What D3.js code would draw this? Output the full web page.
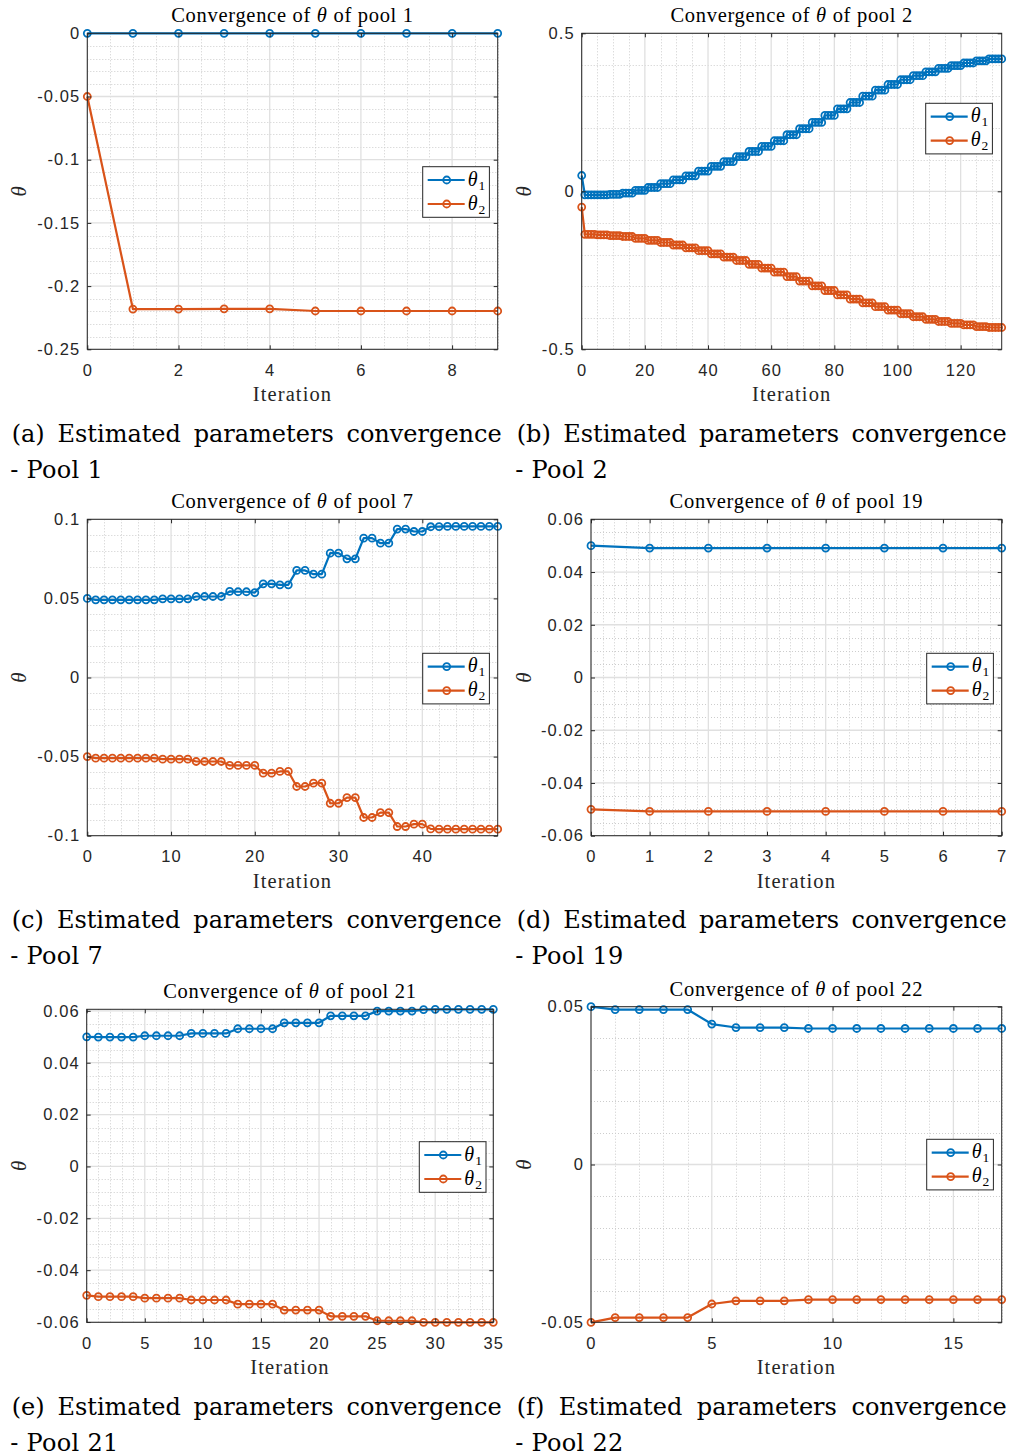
<!DOCTYPE html>
<html>
<head>
<meta charset="utf-8">
<script src="https://cdn.jsdelivr.net/npm/d3@7"></script>
<style>
  body { margin: 0; background: #fff; }
</style>
</head>
<body>
<div id="fig"></div>
<script>
// ---- datos ----
var pool1Theta1 = [0, 0, 0, 0, 0, 0, 0, 0, 0, 0];
var pool1Theta2 = [-0.05, -0.2182, -0.2182, -0.218, -0.218, -0.2197, -0.2197, -0.2197, -0.2197, -0.2197];

var pool2Theta1 = [0.05,
  -0.011, -0.011, -0.011, -0.011,
  -0.011, -0.011, -0.011, -0.011,
  -0.010, -0.010, -0.010, -0.010,
  -0.006, -0.006, -0.006, -0.006,
  0.003, 0.003, 0.003, 0.003,
  0.012, 0.012, 0.012, 0.012,
  0.024, 0.024, 0.024, 0.024,
  0.036, 0.036, 0.036, 0.036,
  0.049, 0.049, 0.049, 0.049,
  0.064, 0.064, 0.064, 0.064,
  0.079, 0.079, 0.079, 0.079,
  0.094, 0.094, 0.094, 0.094,
  0.110, 0.110, 0.110, 0.110,
  0.126, 0.126, 0.126, 0.126,
  0.142, 0.142, 0.142, 0.142,
  0.160, 0.160, 0.160, 0.160,
  0.179, 0.179, 0.179, 0.179,
  0.198, 0.198, 0.198, 0.198,
  0.218, 0.218, 0.218, 0.218,
  0.240, 0.240, 0.240, 0.240,
  0.261, 0.261, 0.261, 0.261,
  0.281, 0.281, 0.281, 0.281,
  0.301, 0.301, 0.301, 0.301,
  0.320, 0.320, 0.320, 0.320,
  0.338, 0.338, 0.338, 0.338,
  0.353, 0.353, 0.353, 0.353,
  0.366, 0.366, 0.366, 0.366,
  0.378, 0.378, 0.378, 0.378,
  0.389, 0.389, 0.389, 0.389,
  0.398, 0.398, 0.398, 0.398,
  0.406, 0.406, 0.406, 0.406,
  0.413, 0.413, 0.413, 0.413,
  0.419, 0.419, 0.419, 0.419, 0.419];

var pool2Theta2 = [-0.05,
  -0.136, -0.136, -0.136, -0.136,
  -0.138, -0.138, -0.138, -0.138,
  -0.140, -0.140, -0.140, -0.140,
  -0.143, -0.143, -0.143, -0.143,
  -0.149, -0.149, -0.149, -0.149,
  -0.155, -0.155, -0.155, -0.155,
  -0.162, -0.162, -0.162, -0.162,
  -0.170, -0.170, -0.170, -0.170,
  -0.179, -0.179, -0.179, -0.179,
  -0.188, -0.188, -0.188, -0.188,
  -0.198, -0.198, -0.198, -0.198,
  -0.208, -0.208, -0.208, -0.208,
  -0.219, -0.219, -0.219, -0.219,
  -0.231, -0.231, -0.231, -0.231,
  -0.243, -0.243, -0.243, -0.243,
  -0.256, -0.256, -0.256, -0.256,
  -0.270, -0.270, -0.270, -0.270,
  -0.284, -0.284, -0.284, -0.284,
  -0.299, -0.299, -0.299, -0.299,
  -0.314, -0.314, -0.314, -0.314,
  -0.328, -0.328, -0.328, -0.328,
  -0.341, -0.341, -0.341, -0.341,
  -0.353, -0.353, -0.353, -0.353,
  -0.365, -0.365, -0.365, -0.365,
  -0.376, -0.376, -0.376, -0.376,
  -0.387, -0.387, -0.387, -0.387,
  -0.397, -0.397, -0.397, -0.397,
  -0.405, -0.405, -0.405, -0.405,
  -0.412, -0.412, -0.412, -0.412,
  -0.418, -0.418, -0.418, -0.418,
  -0.423, -0.423, -0.423, -0.423,
  -0.428, -0.428, -0.428, -0.428,
  -0.431, -0.431, -0.431, -0.431, -0.431];

var pool7Theta1 = [0.05,
  0.0491, 0.0491, 0.0491, 0.0491, 0.0491, 0.0491, 0.0491, 0.0491,
  0.0497, 0.0497, 0.0497, 0.0497,
  0.0512, 0.0512, 0.0512, 0.0512,
  0.0544, 0.0542, 0.0542, 0.0537,
  0.0592, 0.0592, 0.0586, 0.0586,
  0.0677, 0.0677, 0.0653, 0.0653,
  0.0786, 0.0786, 0.0750, 0.0750,
  0.0881, 0.0881, 0.0849, 0.0849,
  0.0938, 0.0938, 0.0923, 0.0923,
  0.0953, 0.0954, 0.0955, 0.0955, 0.0955, 0.0955, 0.0955, 0.0955, 0.0955];
var pool7Theta2 = [-0.05,
  -0.0510, -0.0510, -0.0510, -0.0510, -0.0510, -0.0510, -0.0510, -0.0510,
  -0.0516, -0.0516, -0.0516, -0.0516,
  -0.0531, -0.0531, -0.0531, -0.0531,
  -0.0556, -0.0556, -0.0556, -0.0556,
  -0.0605, -0.0605, -0.0594, -0.0594,
  -0.0689, -0.0689, -0.0668, -0.0668,
  -0.0795, -0.0795, -0.0759, -0.0759,
  -0.0885, -0.0885, -0.0854, -0.0854,
  -0.0942, -0.0942, -0.0927, -0.0927,
  -0.0957, -0.0958, -0.0959, -0.0959, -0.0959, -0.0959, -0.0959, -0.0959, -0.0959];

var pool19Theta1 = [0.05, 0.0491, 0.0491, 0.0491, 0.0491, 0.0491, 0.0491, 0.0491];
var pool19Theta2 = [-0.05, -0.0508, -0.0508, -0.0508, -0.0508, -0.0508, -0.0508, -0.0508];

var pool21Theta1 = [0.05,
  0.0499, 0.0499, 0.0499, 0.0499,
  0.0504, 0.0504, 0.0504, 0.0504,
  0.0513, 0.0513, 0.0513, 0.0513,
  0.0531, 0.0531, 0.0531, 0.0531,
  0.0554, 0.0554, 0.0554, 0.0554,
  0.0581, 0.0581, 0.0581, 0.0581,
  0.0599, 0.0599, 0.0599, 0.0599,
  0.0605, 0.0606, 0.0606, 0.0606, 0.0606, 0.0606, 0.0606];
var pool21Theta2 = [-0.0497,
  -0.0502, -0.0502, -0.0502, -0.0502,
  -0.0508, -0.0508, -0.0508, -0.0508,
  -0.0515, -0.0515, -0.0515, -0.0515,
  -0.0531, -0.0531, -0.0531, -0.0531,
  -0.0554, -0.0554, -0.0554, -0.0554,
  -0.0578, -0.0578, -0.0578, -0.0578,
  -0.0595, -0.0595, -0.0595, -0.0595,
  -0.0601, -0.0601, -0.0601, -0.0601, -0.0601, -0.0601, -0.0601];

var pool22Theta1 = [0.05, 0.0491, 0.0491, 0.0491, 0.0491, 0.0445, 0.0434, 0.0434, 0.0434,
  0.0431, 0.0431, 0.0431, 0.0431, 0.0431, 0.0431, 0.0431, 0.0431, 0.0431];
var pool22Theta2 = [-0.05, -0.0485, -0.0485, -0.0485, -0.0485, -0.0442, -0.0432, -0.0432, -0.0432,
  -0.0428, -0.0428, -0.0428, -0.0428, -0.0428, -0.0428, -0.0428, -0.0428, -0.0428];

// ---- etiquetas de los ejes ----
var xTicksA = [0, 2, 4, 6, 8];
var yTicksA = [-0.25, -0.2, -0.15, -0.1, -0.05, 0];
var yLabelsA = ["-0.25", "-0.2", "-0.15", "-0.1", "-0.05", "0"];
var xTicksB = [0, 20, 40, 60, 80, 100, 120];
var yTicksB = [-0.5, 0, 0.5];
var yLabelsB = ["-0.5", "0", "0.5"];
var xTicksC = [0, 10, 20, 30, 40];
var yTicksC = [-0.1, -0.05, 0, 0.05, 0.1];
var yLabelsC = ["-0.1", "-0.05", "0", "0.05", "0.1"];
var xTicksD = [0, 1, 2, 3, 4, 5, 6, 7];
var yTicksD = [-0.06, -0.04, -0.02, 0, 0.02, 0.04, 0.06];
var yLabelsD = ["-0.06", "-0.04", "-0.02", "0", "0.02", "0.04", "0.06"];
var xTicksE = [0, 5, 10, 15, 20, 25, 30, 35];
var yTicksE = yTicksD;
var yLabelsE = yLabelsD;
var xTicksF = [0, 5, 10, 15];
var yTicksF = [-0.05, 0, 0.05];
var yLabelsF = ["-0.05", "0", "0.05"];

var pools = ["1", "2", "7", "19", "21", "22"];
var tags = ["a", "b", "c", "d", "e", "f"];

// ---- configuracion ----
var W = 1013, H = 1456;
var azul = "#0072BD", naranja = "#D95319", ejeCol = "#262626";
var serif = "'Liberation Serif', 'Times New Roman', serif";
var serifAncho = "'DejaVu Serif', serif";
var sans = "'Liberation Sans', Arial, Helvetica, sans-serif";

var svg = d3.select("#fig").append("svg")
  .attr("width", W)
  .attr("height", H)
  .style("background", "#fff");

// posicion de cada panel (caja de ejes, leyenda, columna)
var paneles = [
  {t1: pool1Theta1, t2: pool1Theta2, xMax: 9, yDom: [-0.25, 0], xT: xTicksA, yT: yTicksA, yL: yLabelsA,
   xMin: 0.5, yMin: 0.01, box: [87.3, 33.3, 497.7, 349.3], ley: [422.7, 166.7], col: 0},
  {t1: pool2Theta1, t2: pool2Theta2, xMax: 133, yDom: [-0.5, 0.5], xT: xTicksB, yT: yTicksB, yL: yLabelsB,
   xMin: 5, yMin: 0.1, box: [581.7, 33.3, 1001.7, 349.3], ley: [925.7, 103.3], col: 1},
  {t1: pool7Theta1, t2: pool7Theta2, xMax: 49, yDom: [-0.1, 0.1], xT: xTicksC, yT: yTicksC, yL: yLabelsC,
   xMin: 2, yMin: 0.01, box: [87.3, 519.3, 497.7, 835.7], ley: [422.7, 653.3], col: 0},
  {t1: pool19Theta1, t2: pool19Theta2, xMax: 7, yDom: [-0.06, 0.06], xT: xTicksD, yT: yTicksD, yL: yLabelsD,
   xMin: 0.2, yMin: 0.005, box: [591, 519.3, 1001.7, 835.7], ley: [926.7, 653.3], col: 1},
  {t1: pool21Theta1, t2: pool21Theta2, xMax: 35, yDom: [-0.0601, 0.0606], xT: xTicksE, yT: yTicksE, yL: yLabelsE,
   xMin: 1, yMin: 0.005, box: [86.7, 1009.3, 493.3, 1322.3], ley: [419.3, 1141.7], col: 0},
  {t1: pool22Theta1, t2: pool22Theta2, xMax: 17, yDom: [-0.05, 0.05], xT: xTicksF, yT: yTicksF, yL: yLabelsF,
   xMin: 1, yMin: 0.01, box: [591, 1006.7, 1001.7, 1322.3], ley: [926.7, 1139.3], col: 1}
];

paneles.forEach(function(p, k) { dibujar(p, pools[k], tags[k]); });

function dibujar(p, pool, tag) {
  var g = svg.append("g");
  var x0 = p.box[0], y0 = p.box[1], x1 = p.box[2], y1 = p.box[3];
  var x = d3.scaleLinear().domain([0, p.xMax]).range([x0, x1]);
  var y = d3.scaleLinear().domain(p.yDom).range([y1, y0]);
  var eps = 1e-9;

  // fondo blanco
  g.append("rect").attr("x", x0).attr("y", y0).attr("width", x1 - x0).attr("height", y1 - y0)
    .attr("fill", "#fff");

  // grilla menor (punteada)
  var menorX = d3.range(0, p.xMax + eps, p.xMin)
    .filter(function(v) { return !p.xT.some(function(t) { return Math.abs(t - v) < eps; }); });
  var yStart = Math.ceil(p.yDom[0] / p.yMin - eps) * p.yMin;
  var menorY = d3.range(yStart, p.yDom[1] + eps, p.yMin)
    .filter(function(v) { return !p.yT.some(function(t) { return Math.abs(t - v) < 1e-6; }); });

  g.append("g").selectAll("line").data(menorX).enter().append("line")
    .attr("x1", function(d) { return Math.round(x(d)) + 0.5; })
    .attr("x2", function(d) { return Math.round(x(d)) + 0.5; })
    .attr("y1", y0).attr("y2", y1)
    .attr("stroke", "#cdcdcd").attr("stroke-width", 1).attr("stroke-dasharray", "1,2");
  g.append("g").selectAll("line").data(menorY).enter().append("line")
    .attr("y1", function(d) { return Math.round(y(d)) + 0.5; })
    .attr("y2", function(d) { return Math.round(y(d)) + 0.5; })
    .attr("x1", x0).attr("x2", x1)
    .attr("stroke", "#cdcdcd").attr("stroke-width", 1).attr("stroke-dasharray", "1,2");

  // grilla mayor
  g.append("g").selectAll("line").data(p.xT).enter().append("line")
    .attr("x1", function(d) { return x(d); }).attr("x2", function(d) { return x(d); })
    .attr("y1", y0).attr("y2", y1)
    .attr("stroke", "#e0e0e0").attr("stroke-width", 1.3);
  g.append("g").selectAll("line").data(p.yT).enter().append("line")
    .attr("y1", function(d) { return y(d); }).attr("y2", function(d) { return y(d); })
    .attr("x1", x0).attr("x2", x1)
    .attr("stroke", "#e0e0e0").attr("stroke-width", 1.3);

  // series
  var linea = d3.line().x(function(d, i) { return x(i); }).y(function(d) { return y(d); });
  var series = [{v: p.t1, c: azul}, {v: p.t2, c: naranja}];
  series.forEach(function(s) {
    g.append("path").datum(s.v).attr("d", linea)
      .attr("fill", "none").attr("stroke", s.c).attr("stroke-width", 2.2)
      .attr("stroke-linejoin", "round");
    g.append("g").selectAll("circle").data(s.v).enter().append("circle")
      .attr("cx", function(d, i) { return x(i); })
      .attr("cy", function(d) { return y(d); })
      .attr("r", 3.5)
      .attr("fill", "none").attr("stroke", s.c).attr("stroke-width", 1.8);
  });

  // ejes
  var ejeX = g.append("g").attr("transform", "translate(0," + y1 + ")")
    .call(d3.axisBottom(x).tickValues(p.xT).tickFormat(function(d) { return String(d); })
      .tickSizeInner(-4).tickSizeOuter(0).tickPadding(15));
  var ejeY = g.append("g").attr("transform", "translate(" + x0 + ",0)")
    .call(d3.axisLeft(y).tickValues(p.yT).tickFormat(function(d, i) { return p.yL[i]; })
      .tickSizeInner(-4).tickSizeOuter(0).tickPadding(7));
  var ejeTop = g.append("g").attr("transform", "translate(0," + y0 + ")")
    .call(d3.axisTop(x).tickValues(p.xT).tickFormat("").tickSizeInner(-4).tickSizeOuter(0));
  var ejeDer = g.append("g").attr("transform", "translate(" + x1 + ",0)")
    .call(d3.axisRight(y).tickValues(p.yT).tickFormat("").tickSizeInner(-4).tickSizeOuter(0));

  [ejeX, ejeY, ejeTop, ejeDer].forEach(function(e) {
    e.select(".domain").remove();
    e.selectAll("line").attr("stroke", ejeCol).attr("stroke-width", 1);
    e.selectAll("text").attr("fill", ejeCol)
      .attr("font-family", sans).attr("font-size", 16.5).attr("letter-spacing", 1.1);
  });

  // caja
  g.append("rect").attr("x", x0).attr("y", y0).attr("width", x1 - x0).attr("height", y1 - y0)
    .attr("fill", "none").attr("stroke", ejeCol).attr("stroke-width", 1);

  // titulo
  var tit = g.append("text")
    .attr("x", (x0 + x1) / 2).attr("y", y0 - 11)
    .attr("text-anchor", "middle")
    .attr("font-family", serif).attr("font-size", 20.5).attr("letter-spacing", 0.7)
    .attr("fill", "#000");
  tit.append("tspan").text("Convergence of ");
  tit.append("tspan").attr("font-style", "italic").text("\u03B8");
  tit.append("tspan").text(" of pool " + pool);

  // etiqueta x
  g.append("text").text("Iteration")
    .attr("x", (x0 + x1) / 2).attr("y", y1 + 52)
    .attr("text-anchor", "middle")
    .attr("font-family", serif).attr("font-size", 20.5).attr("letter-spacing", 1.1)
    .attr("fill", ejeCol);

  // etiqueta y
  var yLabX = p.col === 0 ? 20 : 525;
  g.append("text").text("\u03B8")
    .attr("transform", "translate(" + (yLabX + 6) + "," + ((y0 + y1) / 2) + ") rotate(-90)")
    .attr("text-anchor", "middle")
    .attr("font-family", serif).attr("font-style", "italic").attr("font-size", 21)
    .attr("fill", ejeCol);

  // leyenda
  var lx = p.ley[0], ly = p.ley[1];
  var ley = g.append("g").attr("class", "leyenda");
  ley.append("rect").attr("x", lx).attr("y", ly).attr("width", 66.7).attr("height", 50.6)
    .attr("fill", "#fff").attr("stroke", ejeCol).attr("stroke-width", 1);
  series.forEach(function(s, i) {
    var cy = ly + 13.3 + 24 * i;
    ley.append("line").attr("x1", lx + 5).attr("x2", lx + 42).attr("y1", cy).attr("y2", cy)
      .attr("stroke", s.c).attr("stroke-width", 2.2);
    ley.append("circle").attr("cx", lx + 24).attr("cy", cy).attr("r", 3.5)
      .attr("fill", "none").attr("stroke", s.c).attr("stroke-width", 1.8);
    var t = ley.append("text").attr("x", lx + 45).attr("y", cy + 5.5)
      .attr("font-family", serif).attr("font-size", 20).attr("fill", "#000");
    t.append("tspan").attr("font-style", "italic").text("\u03B8");
    t.append("tspan").attr("font-size", 13.5).attr("dy", 4).attr("dx", 1).text(String(i + 1));
  });

  // pie de figura (justificado)
  var cx0 = p.col === 0 ? 11.7 : 516.7;
  var cx1 = p.col === 0 ? 501.7 : 1006.7;
  var base = y1 + 92.5;
  var palabras = ["(" + tag + ")", "Estimated", "parameters", "convergence"];
  var tw = g.selectAll(null).data(palabras).enter().append("text")
    .attr("y", base)
    .attr("font-family", serifAncho).attr("font-size", 24).attr("fill", "#000")
    .text(function(d) { return d; });
  var anchos = tw.nodes().map(function(n) { return n.getComputedTextLength(); });
  var hueco = (cx1 - cx0 - d3.sum(anchos)) / (palabras.length - 1);
  var pos = cx0;
  tw.attr("x", function(d, i) { var v = pos; pos += anchos[i] + hueco; return v; });

  g.append("text").text("- Pool " + pool)
    .attr("x", cx0 - 1.5).attr("y", base + 36)
    .attr("font-family", serifAncho).attr("font-size", 24).attr("letter-spacing", 0.3)
    .attr("fill", "#000");
}
</script>
</body>
</html>
